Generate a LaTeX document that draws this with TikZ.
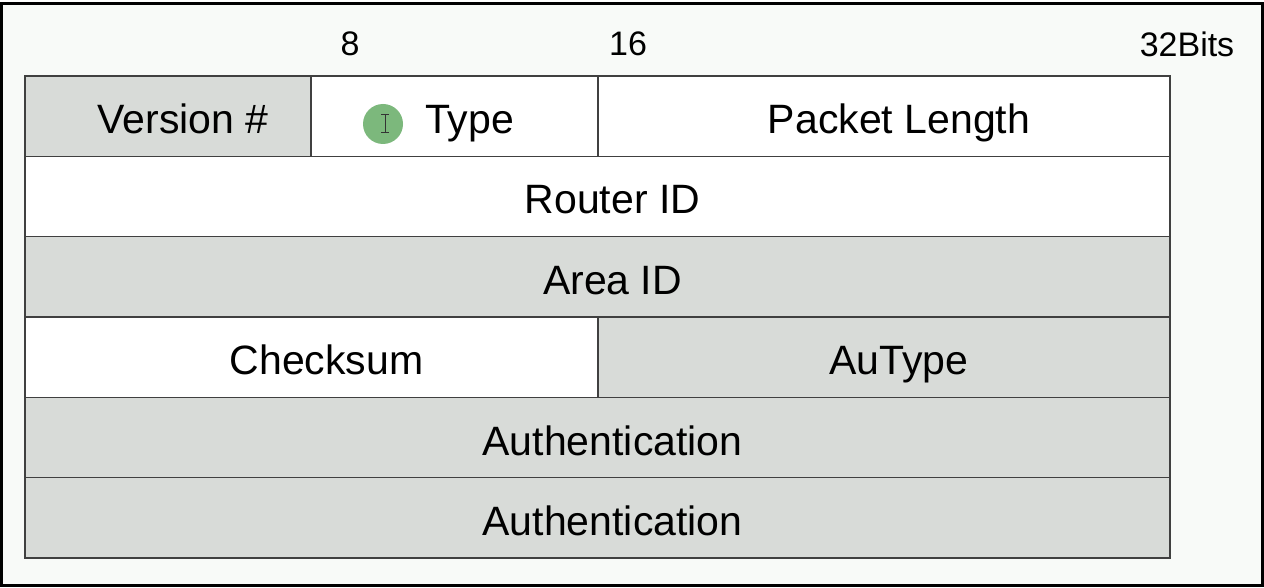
\documentclass[tikz,border=0pt]{standalone}
\usepackage{fontspec}
\setmainfont{Liberation Sans}
\usepackage{tikz}
\usetikzlibrary{positioning}

\definecolor{cellgray}{HTML}{D8DBD8}
\definecolor{pagebg}{HTML}{F8FAF8}
\definecolor{cursorgreen}{HTML}{7CB87C}

\tikzset{
  field/.style={draw=black!75, line width=1.6pt, minimum height=80.33pt, inner sep=0pt},
  grayf/.style={field, fill=cellgray},
  whitef/.style={field, fill=white},
  lbl/.style={xshift=15pt, yshift=-3pt, font=\fontsize{41}{41}\selectfont, text height=29pt, text depth=0pt, inner sep=0pt},
  bits/.style={font=\fontsize{34}{34}\selectfont, inner sep=0pt}
}

\begin{document}
\begin{tikzpicture}[x=1pt, y=-1pt]
    \useasboundingbox (0,0) rectangle (1264,588);
    \draw[fill=pagebg, line width=3pt] (1.5,4) rectangle (1262,585.5);

    % bit ruler
    \node[bits] (b8) at (350,44) {8};
    \node[bits] (b16) at (628,44) {16};
    \node[bits] (b32) at (1187,44) {32Bits};

    % header rows
    \node[grayf, minimum width=286pt, label={[lbl]center:Version \#}] (version) at (168,116.17) {};
    \node[whitef, minimum width=287pt, label={[lbl]center:Type}] (type) at (454.5,116.17) {};
    \node[whitef, minimum width=572pt, label={[lbl]center:Packet Length}] (length) at (884,116.17) {};
    \node[whitef, minimum width=1145pt, label={[lbl]center:Router ID}] (router) at (597.5,196.5) {};
    \node[grayf, minimum width=1145pt, label={[lbl]center:Area ID}] (area) at (597.5,276.83) {};
    \node[whitef, minimum width=573pt, label={[lbl]center:Checksum}] (checksum) at (311.5,357.17) {};
    \node[grayf, minimum width=572pt, label={[lbl]center:AuType}] (autype) at (884,357.17) {};
    \node[grayf, minimum width=1145pt, label={[lbl]center:Authentication}] (auth1) at (597.5,437.5) {};
    \node[grayf, minimum width=1145pt, label={[lbl]center:Authentication}] (auth2) at (597.5,517.83) {};

    % pointer mark
    \node[circle, fill=cursorgreen, minimum size=40pt, inner sep=0pt] (cursor) at (383,124) {};
    \draw[black!80, line width=1pt] (385,115) -- (385,133)
        (381,115) -- (389,115) (381,133) -- (389,133);
\end{tikzpicture}
\end{document}
